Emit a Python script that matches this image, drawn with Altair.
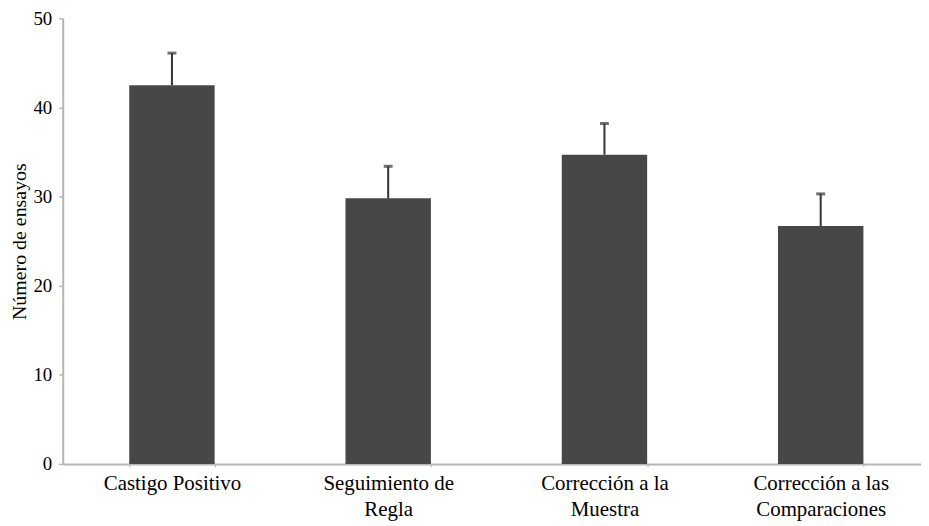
import altair as alt
import pandas as pd

categories = ["Castigo Positivo", "Seguimiento de|Regla", "Corrección a la|Muestra", "Corrección a las|Comparaciones"]
means = [42.5, 29.8, 34.7, 26.7]
errors = [3.6, 3.6, 3.5, 3.6]

df = pd.DataFrame({"cat": categories, "mean": means, "err": errors})
df["upper"] = df["mean"] + df["err"]

FONT = "Liberation Serif"

xscale = alt.Scale(paddingInner=0.605, paddingOuter=0.287, align=0.536)
x = alt.X("cat:N", sort=categories, title=None, scale=xscale,
          axis=alt.Axis(labelAngle=0, labelExpr="split(datum.label, '|')",
                        labelFont=FONT, labelFontSize=21, labelColor="black",
                        labelLineHeight=26, labelPadding=6,
                        domainColor="#b5b5b5", domainWidth=2,
                        tickBand="extent", tickSize=3, tickColor="#b5b5b5"))
y = alt.Y("mean:Q", title="Número de ensayos",
          scale=alt.Scale(domain=[0, 50], nice=False),
          axis=alt.Axis(values=[0, 10, 20, 30, 40, 50], grid=False,
                        labelFont=FONT, labelFontSize=19, labelColor="black",
                        labelPadding=7,
                        titleFont=FONT, titleFontSize=20, titleFontWeight="normal",
                        titleColor="black", titlePadding=3,
                        domainColor="#b5b5b5", domainWidth=2,
                        tickSize=4, tickColor="#b5b5b5", tickWidth=1.5))

bars = alt.Chart(df).mark_bar(color="#474747").encode(x=x, y=y)
rules = alt.Chart(df).mark_rule(color="#333333", strokeWidth=2).encode(
    x=alt.X("cat:N", sort=categories, scale=xscale), y="mean:Q", y2="upper:Q")
caps = alt.Chart(df).mark_tick(color="#333333", thickness=3, size=9, orient="horizontal").encode(
    x=alt.X("cat:N", sort=categories, scale=xscale), y="upper:Q")

chart = alt.layer(bars, rules, caps).properties(
    width=863, height=448, background="white", padding={"left": 2, "top": 0, "right": 0, "bottom": 0}
).configure_view(stroke=None).configure_axis(labelFont=FONT, titleFont=FONT)

chart.save("out.html", embed_options={"renderer": "svg", "actions": False})
